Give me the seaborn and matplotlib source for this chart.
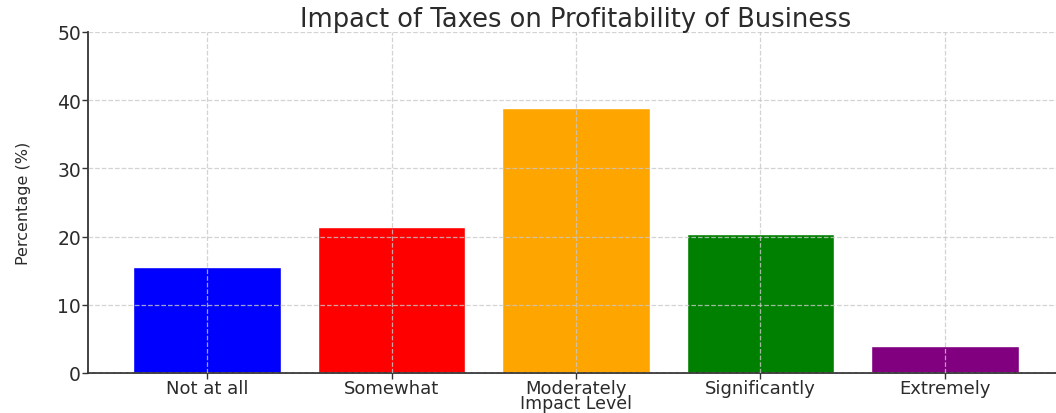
import matplotlib
matplotlib.use("Agg")
import matplotlib.pyplot as plt
import seaborn as sns
import pandas as pd

# Survey results: how much taxes affect business profitability
impact_levels = ["Not at all", "Somewhat", "Moderately", "Significantly", "Extremely"]
percentages = [15.5, 21.4, 38.8, 20.4, 4.0]
bar_colors = ["blue", "red", "orange", "green", "purple"]
y_ticks = [0, 10, 20, 30, 40, 50]

df = pd.DataFrame({"Impact Level": impact_levels, "Percentage": percentages})

sns.set_style("white")
plt.rcParams["font.family"] = ["DejaVu Sans"]
text_color = "#2b2b2b"

fig = plt.figure(figsize=(10.56, 4.14), dpi=100)
ax = fig.add_axes([88 / 1056, 40 / 414, 976 / 1056, 341 / 414])

sns.barplot(
    data=df, x="Impact Level", y="Percentage", hue="Impact Level",
    palette=bar_colors, saturation=1, width=0.8, legend=False, ax=ax,
)

ax.set_ylim(0, 50)
ax.set_yticks(y_ticks)
ax.set_xlim(-0.645, 4.645)

ax.grid(True, linestyle="--", color="#c8c8c8", linewidth=0.9, alpha=0.8)
ax.set_axisbelow(False)

for side in ("top", "right"):
    ax.spines[side].set_visible(False)
for side in ("left", "bottom"):
    ax.spines[side].set_color("#333333")
    ax.spines[side].set_linewidth(1.3)

ax.tick_params(axis="both", which="both", direction="out", length=4, width=1,
               color="#333333", labelcolor=text_color, labelsize=13.5, pad=1,
               bottom=True, left=True)
ax.tick_params(axis="x", pad=0, labelsize=13)

ax.set_title("Impact of Taxes on Profitability of Business", fontsize=18.5,
             color=text_color, pad=1)
ax.set_xlabel("Impact Level", fontsize=12.5, color=text_color)
ax.set_ylabel("Percentage (%)", fontsize=11.5, color=text_color)
ax.xaxis.set_label_coords(0.5, -0.063)
ax.yaxis.set_label_coords(-0.058, 0.5)

fig.savefig("out.png", dpi=100)
